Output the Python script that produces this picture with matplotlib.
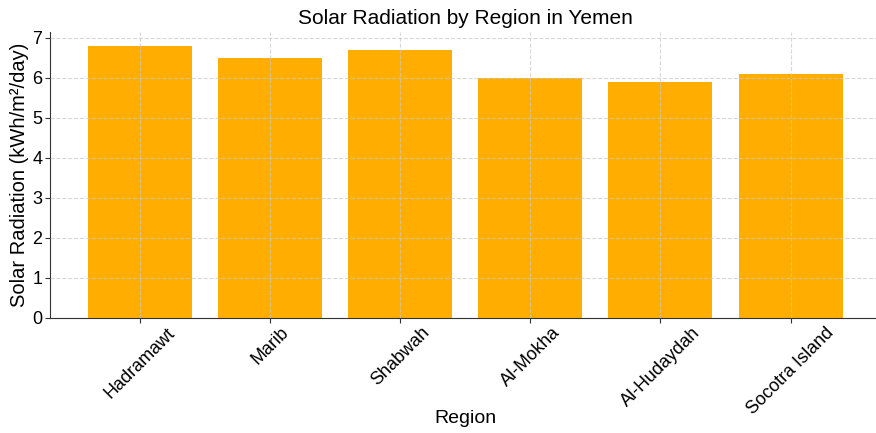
import matplotlib
matplotlib.use("Agg")
import matplotlib.pyplot as plt

regions = ["Hadramawt", "Marib", "Shabwah", "Al-Mokha", "Al-Hudaydah", "Socotra Island"]
radiation = [6.8, 6.5, 6.7, 6.0, 5.9, 6.1]
yticks = [0, 1, 2, 3, 4, 5, 6, 7]

plt.rcParams['font.family'] = ['Liberation Sans', 'DejaVu Sans']

fig = plt.figure(figsize=(8.76, 4.33), dpi=100)
ax = fig.add_axes([0.057, 0.2656, 0.948, 0.6596])
ax.bar(regions, radiation, color='#FFAE00', width=0.8, zorder=2)
ax.set_ylim(0, 7.14)
ax.set_xlim(-0.69, 5.69)
ax.set_yticks(yticks)
ax.grid(True, linestyle='--', color='#c8c8c8', linewidth=0.8, alpha=0.7, zorder=3)
ax.set_axisbelow(False)
for s in ['top', 'right']:
    ax.spines[s].set_visible(False)
for s in ['left', 'bottom']:
    ax.spines[s].set_color('#333333')
ax.set_title("Solar Radiation by Region in Yemen", fontsize=15, pad=6)
ax.set_xlabel("Region", fontsize=14)
ax.xaxis.set_label_coords(0.5, -0.322)
ax.set_ylabel("Solar Radiation (kWh/m²/day)", fontsize=14.5, labelpad=2)
ax.tick_params(axis='both', labelsize=13, colors='#333333', labelcolor='black')
ax.tick_params(axis='x', pad=1)
ax.tick_params(axis='y', pad=2)
plt.setp(ax.get_xticklabels(), rotation=45, ha='center')
fig.savefig("out.png", dpi=100)
